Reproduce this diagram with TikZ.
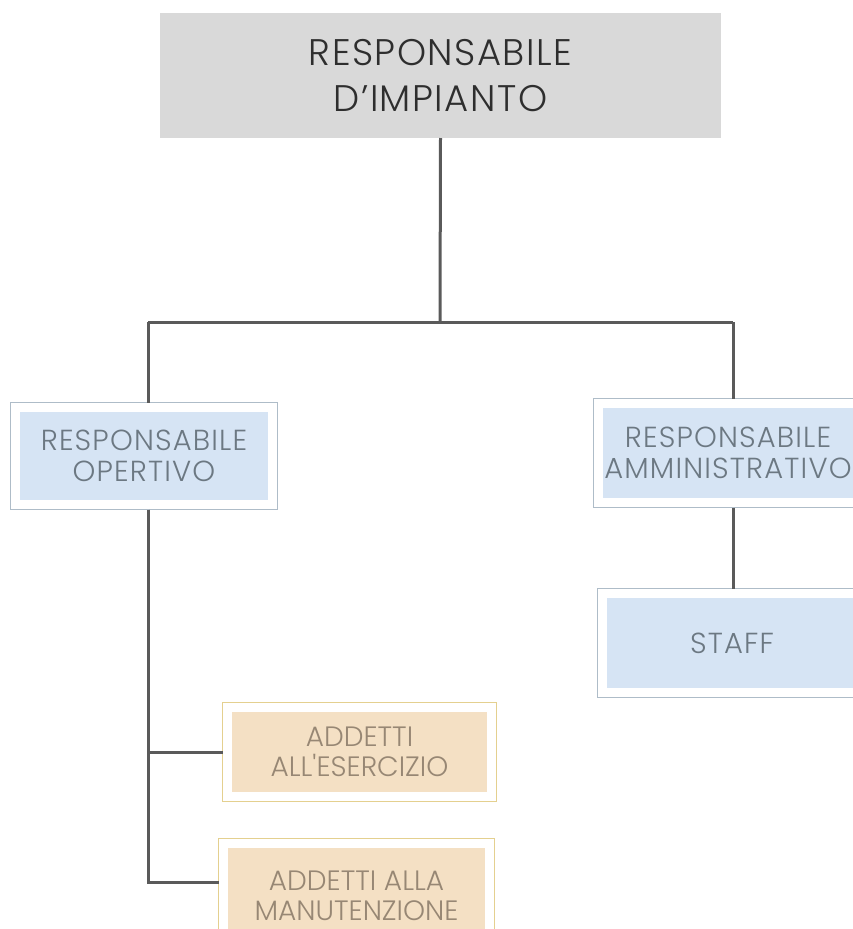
\documentclass[tikz,border=0pt]{standalone}
\usepackage{fontspec}
\setmainfont{Poppins}[UprightFont=* Light]
\usetikzlibrary{positioning,fit}
\definecolor{headgray}{HTML}{D9D9D9}
\definecolor{boxblue}{HTML}{D6E4F4}
\definecolor{framegray}{HTML}{AEBCC8}
\definecolor{bluetext}{HTML}{6C7882}
\definecolor{taskbeige}{HTML}{F4E0C4}
\definecolor{taskframe}{HTML}{E4D08F}
\definecolor{tasktext}{HTML}{978774}
\definecolor{linkgray}{HTML}{5A5A5A}

\begin{document}
\begin{tikzpicture}[x=1pt, y=-1pt,
  head/.style={fill=headgray, minimum width=561pt, minimum height=125pt,
    align=center, inner sep=0pt, outer sep=0pt, text=black!82,
    font=\fontsize{37}{46}\selectfont\addfontfeature{LetterSpace=4}},
  box/.style={fill=boxblue, align=center, inner sep=0pt, outer sep=0pt,
    text=bluetext, font=\fontsize{29}{31}\selectfont\addfontfeature{LetterSpace=4}},
  task/.style={box, fill=taskbeige, text=tasktext,
    font=\fontsize{28}{30}\selectfont},
  frame/.style={draw=framegray, line width=1.2pt, inner sep=9.5pt, outer sep=0pt},
  taskfr/.style={frame, draw=taskframe},
  link/.style={draw=linkgray, line width=3pt}
]
\clip (0,0) rectangle (853,929);

% ── head ────────────────────────────────────────────────────────────────
\node[head] (top) at (440.5,75.5) {RESPONSABILE\\D’IMPIANTO};
\coordinate (split) at (440,322);
\coordinate (lsplit) at (148,322);
\coordinate (rsplit) at (733,322);

% ── second level ────────────────────────────────────────────────────────
\node[box, minimum width=248pt, minimum height=88pt] (opv) at (144,456)
  {RESPONSABILE\\OPERTIVO};
\node[frame, fit=(opv)] (opvframe) {};
\node[box, minimum width=250pt, minimum height=90pt] (amm) at (728,453)
  {RESPONSABILE\\AMMINISTRATIVO};
\node[frame, fit=(amm)] (ammframe) {};
\node[box, minimum width=250pt, minimum height=90pt] (staff) at (732,643)
  {STAFF};
\node[frame, fit=(staff)] (staffframe) {};

% ── tasks ───────────────────────────────────────────────────────────────
\node[task, minimum width=255pt, minimum height=80pt] (es) at (359.5,752)
  {ADDETTI\\ALL\textquotesingle ESERCIZIO};
\node[taskfr, fit=(es)] (esframe) {};
\node[task, minimum width=257pt, minimum height=96pt] (mn) at (356.5,896)
  {ADDETTI ALLA\\MANUTENZIONE};
\node[taskfr, fit=(mn)] (mnframe) {};

% ── links ───────────────────────────────────────────────────────────────
\draw[link] (top.south) -- (split);
\draw[link] (lsplit) -- (rsplit);
\draw[link] (lsplit) -- (lsplit |- opvframe.north);
\draw[link] (rsplit) -- (rsplit |- ammframe.north);
\draw[link] (ammframe.south -| rsplit) -- (rsplit |- staffframe.north);
\draw[link] (opvframe.south -| lsplit) |- (esframe.west);
\draw[link] (opvframe.south -| lsplit) |- ([yshift=14pt]mnframe.west);

\end{tikzpicture}
\end{document}
